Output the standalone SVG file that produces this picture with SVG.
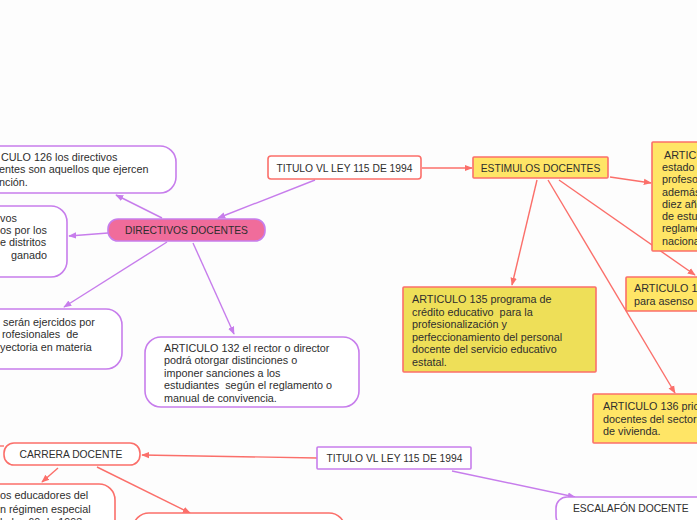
<svg xmlns="http://www.w3.org/2000/svg" width="697" height="520" viewBox="0 0 697 520">
<style>
text{font-family:"Liberation Sans",Arial,sans-serif;font-size:10.8px;fill:#2e2e2e;white-space:pre}
.t{font-size:10.3px}
.c{text-anchor:middle}
.lp{stroke:#c77dec;stroke-width:1.4;fill:none}
.lr{stroke:#fb6f6a;stroke-width:1.4;fill:none}
.np{fill:#ffffff;stroke:#c77dec;stroke-width:1.6}
.nr{fill:#ffffff;stroke:#fb6f6a;stroke-width:1.6}
.ny{fill:#ffe566;stroke:#fb6f6a;stroke-width:1.6}
.ny2{fill:#eedf58;stroke:#fb6f6a;stroke-width:1.6}
.pk{fill:#f06c9b;stroke:#c77dec;stroke-width:1.6}
</style>
<defs>
<marker id="ap" viewBox="0 0 10 10" refX="9" refY="5" markerWidth="8" markerHeight="8" markerUnits="userSpaceOnUse" orient="auto"><path d="M0,1 L10,5 L0,9 z" fill="#c77dec"/></marker>
<marker id="ar" viewBox="0 0 10 10" refX="9" refY="5" markerWidth="8" markerHeight="8" markerUnits="userSpaceOnUse" orient="auto"><path d="M0,1 L10,5 L0,9 z" fill="#fb6f6a"/></marker>
</defs>
<rect width="697" height="520" fill="#fdfdfd"/>
<g id="connectors">
<path class="lp" d="M315,180 L218,218" marker-end="url(#ap)"/>
<path class="lp" d="M162,218 L116,195" marker-end="url(#ap)"/>
<path class="lp" d="M108,233 L69,236" marker-end="url(#ap)"/>
<path class="lp" d="M167,242 L64,307" marker-end="url(#ap)"/>
<path class="lp" d="M193,243 L234,334" marker-end="url(#ap)"/>
<path class="lp" d="M452,471 L575,497" marker-end="url(#ap)"/>
<path class="lr" d="M422,168 L472,168" marker-end="url(#ar)"/>
<path class="lr" d="M610,177 L651,183" marker-end="url(#ar)"/>
<path class="lr" d="M537,180 L512,285" marker-end="url(#ar)"/>
<path class="lr" d="M559,180 L695,275" marker-end="url(#ar)"/>
<path class="lr" d="M548,180 L675,393" marker-end="url(#ar)"/>
<path class="lr" d="M317,458 L142,455" marker-end="url(#ar)"/>
<path class="lr" d="M58,468 L42,482" marker-end="url(#ar)"/>
<path class="lr" d="M97,467 L190,513" marker-end="url(#ar)"/>
<path class="lr" d="M0,446 L4,446"/>
</g>
<g id="titulo1">
<rect class="nr" x="268" y="156" width="153" height="23" rx="3"/>
<text class="c t" x="344.5" y="171.5">TITULO VL LEY 115 DE 1994</text>
</g>
<g id="directivos">
<rect class="pk" x="108" y="219" width="157" height="22" rx="10"/>
<text class="c t" x="186.5" y="234">DIRECTIVOS DOCENTES</text>
</g>
<g id="art126">
<rect class="np" x="-20" y="146" width="196" height="47" rx="16"/>
<text x="1" y="160.5">CULO 126 los directivos</text>
<text x="-1" y="173">entes son aquellos que ejercen</text>
<text x="-1" y="185.5">nción.</text>
</g>
<g id="node-left2">
<rect class="np" x="-20" y="206" width="87" height="71" rx="16"/>
<text x="0" y="221.5">vos</text>
<text x="0" y="234">os por los</text>
<text x="0" y="246">e distritos</text>
<text x="11" y="258.5">ganado</text>
</g>
<g id="node-left3">
<rect class="np" x="-20" y="309" width="142" height="60" rx="16"/>
<text x="3" y="325.5">serán ejercidos por</text>
<text x="2" y="338">rofesionales  de</text>
<text x="0" y="350.5">yectoria en materia</text>
</g>
<g id="art132">
<rect class="np" x="145" y="337" width="214" height="70" rx="16"/>
<text x="164" y="351.5">ARTICULO 132 el rector o director</text>
<text x="164" y="364">podrá otorgar distinciones o</text>
<text x="164" y="376.5">imponer sanciones a los</text>
<text x="164" y="389">estudiantes  según el reglamento o</text>
<text x="164" y="401.5">manual de convivencia.</text>
</g>
<g id="estimulos">
<rect class="ny" x="473" y="157" width="135" height="21" rx="1"/>
<text class="c t" x="540.5" y="171.5">ESTIMULOS DOCENTES</text>
</g>
<g id="art133">
<rect class="ny" x="652" y="142" width="60" height="109" rx="1"/>
<text x="664" y="159">ARTICU</text>
<text x="662" y="171">estado</text>
<text x="662" y="183">profeso</text>
<text x="662" y="195.5">además</text>
<text x="662" y="207.5">diez añ</text>
<text x="662" y="220">de estu</text>
<text x="662" y="232">reglame</text>
<text x="662" y="244.5">naciona</text>
</g>
<g id="art-asenso">
<rect class="ny" x="626" y="277" width="80" height="34" rx="1"/>
<text x="634" y="292">ARTICULO 1</text>
<text x="634" y="305">para asenso</text>
</g>
<g id="art135">
<rect class="ny2" x="403" y="287" width="193" height="85" rx="1"/>
<text x="412" y="303">ARTICULO 135 programa de</text>
<text x="412" y="315.5">crédito educativo  para la</text>
<text x="412" y="328">profesionalización y</text>
<text x="412" y="340.5">perfeccionamiento del personal</text>
<text x="412" y="353">docente del servicio educativo</text>
<text x="412" y="365.5">estatal.</text>
</g>
<g id="art136">
<rect class="ny" x="593" y="394" width="110" height="49" rx="1"/>
<text x="603" y="410">ARTICULO 136 prio</text>
<text x="603" y="423">docentes del sector</text>
<text x="603" y="435">de vivienda.</text>
</g>
<g id="titulo2">
<rect class="np" x="317" y="447" width="154" height="22" rx="1"/>
<text class="c t" x="394.5" y="462">TITULO VL LEY 115 DE 1994</text>
</g>
<g id="carrera">
<rect class="nr" x="4" y="443" width="136" height="22" rx="10"/>
<text class="c t" x="71" y="458">CARRERA DOCENTE</text>
</g>
<g id="escalafon">
<rect class="np" x="556" y="497" width="160" height="30" rx="11"/>
<text class="t" x="573" y="512">ESCALAFÓN DOCENTE</text>
</g>
<g id="node-carrera-left">
<rect class="nr" x="-20" y="484" width="135" height="60" rx="16"/>
<text x="0" y="499">os educadores del</text>
<text x="0" y="513">n régimen especial</text>
<text x="0" y="526">la ley 60 de 1993 y</text>
</g>
<g id="node-carrera-bottom">
<rect class="nr" x="133" y="513" width="212" height="40" rx="16"/>
</g>
</svg>
